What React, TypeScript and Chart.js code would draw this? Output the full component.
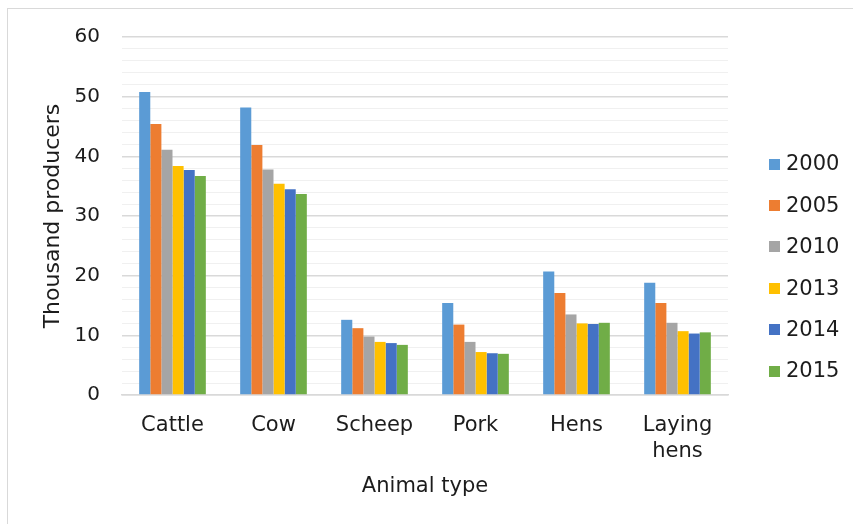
import React, { useEffect, useRef } from 'react';
import { Chart, registerables } from 'chart.js';

Chart.register(...registerables);

const FONT = "'DejaVu Sans', Verdana, sans-serif";
const TEXT = '#1c1c1c';

// Producer counts (thousands) by animal type, per survey year
const animalTypes: (string | string[])[] = ['Cattle', 'Cow', 'Scheep', 'Pork', 'Hens', ['Laying', 'hens']];
const years = ['2000', '2005', '2010', '2013', '2014', '2015'];
const yearColors = ['#5B9BD5', '#ED7D31', '#A5A5A5', '#FFC000', '#4472C4', '#70AD47'];

const producers2000 = [50.8, 48.2, 12.6, 15.4, 20.7, 18.8];
const producers2005 = [45.4, 41.9, 11.2, 11.8, 17.1, 15.4];
const producers2010 = [41.1, 37.8, 9.8, 8.9, 13.5, 12.1];
const producers2013 = [38.4, 35.4, 8.9, 7.2, 12.0, 10.7];
const producers2014 = [37.7, 34.5, 8.7, 7.0, 11.9, 10.3];
const producers2015 = [36.7, 33.7, 8.4, 6.9, 12.1, 10.5];

const seriesValues = [producers2000, producers2005, producers2010, producers2013, producers2014, producers2015];

const yMax = 60;
const yMinorStep = 2;
const yLabelStep = 10;

// Vertical legend to the right of the plot, built from the datasets
const sideLegend = {
  id: 'sideLegend',
  afterDraw(chart: any) {
    const { ctx, chartArea } = chart;
    const boxX = chartArea.right + 41;
    const firstY = 164;
    const rowGap = 41.4;
    ctx.save();
    ctx.font = `21px ${FONT}`;
    ctx.textBaseline = 'middle';
    ctx.textAlign = 'left';
    chart.data.datasets.forEach((ds: any, i: number) => {
      const cy = firstY + i * rowGap;
      ctx.fillStyle = ds.backgroundColor;
      ctx.fillRect(boxX, Math.round(cy - 5.5), 11, 11);
      ctx.fillStyle = TEXT;
      ctx.fillText(ds.label, boxX + 17, cy + 1);
    });
    ctx.restore();
  },
};

export default function App() {
  const canvasRef = useRef<HTMLCanvasElement | null>(null);

  useEffect(() => {
    if (!canvasRef.current) return;
    const chart = new Chart(canvasRef.current, {
      type: 'bar',
      data: {
        labels: animalTypes,
        datasets: years.map((y, i) => ({
          label: y,
          data: seriesValues[i],
          backgroundColor: yearColors[i],
          borderWidth: 0,
          categoryPercentage: 0.66,
          barPercentage: 1,
        })),
      },
      options: {
        animation: false,
        responsive: false,
        layout: { padding: { left: 0, right: 125, top: 37, bottom: 20 } },
        plugins: {
          legend: { display: false },
          tooltip: { enabled: false },
        },
        scales: {
          x: {
            grid: { display: false },
            border: { display: true, color: '#d9d9d9', width: 1.5 },
            ticks: {
              color: TEXT,
              font: { family: FONT, size: 21, lineHeight: 1.25 },
              padding: 9,
              maxRotation: 0,
              autoSkip: false,
            },
            title: {
              display: true,
              text: 'Animal type',
              color: TEXT,
              font: { family: FONT, size: 21 },
              padding: { top: 0, bottom: 5 },
            },
            afterFit(scale: any) {
              scale.height = 109;
            },
          },
          y: {
            min: 0,
            max: yMax,
            border: { display: false },
            grid: {
              drawTicks: false,
              color: (c: any) => (c.tick && c.tick.value % yLabelStep === 0 ? '#d9d9d9' : '#f0f0f0'),
              lineWidth: (c: any) => (c.tick && c.tick.value % yLabelStep === 0 ? 1.5 : 1),
            },
            ticks: {
              stepSize: yMinorStep,
              autoSkip: false,
              padding: 22,
              color: TEXT,
              font: { family: FONT, size: 20 },
              callback: (v: any) => (Number(v) % yLabelStep === 0 ? String(v) : ''),
            },
            title: {
              display: true,
              text: 'Thousand producers',
              color: TEXT,
              font: { family: FONT, size: 22 },
              padding: { top: 40, bottom: 0 },
            },
            afterFit(scale: any) {
              scale.width = 122;
            },
          },
        },
      },
      plugins: [sideLegend],
    });
    return () => chart.destroy();
  }, []);

  return (
    <div
      style={{
        position: 'absolute',
        left: 0,
        top: 0,
        width: 853,
        height: 524,
        overflow: 'hidden',
        background: '#ffffff',
      }}
    >
      <div
        style={{
          position: 'absolute',
          left: 7,
          top: 8,
          width: 853,
          height: 540,
          border: '1.5px solid #d9d9d9',
          boxSizing: 'border-box',
        }}
      />
      <canvas ref={canvasRef} width={853} height={524} style={{ position: 'absolute', left: 0, top: 0 }} />
    </div>
  );
}
